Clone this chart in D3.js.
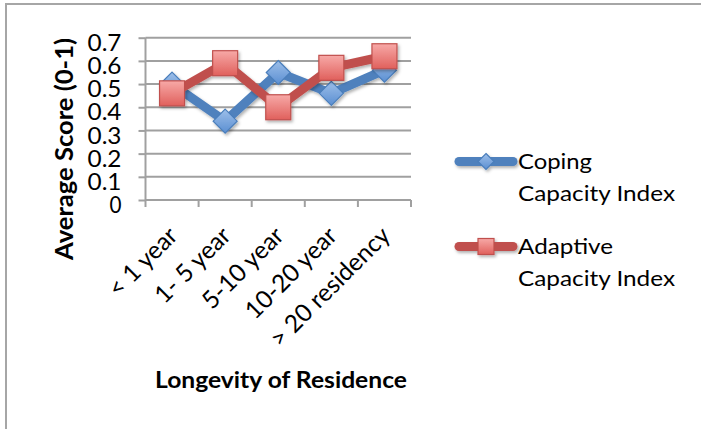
<!DOCTYPE html>
<html>
<head>
<meta charset="utf-8">
<script src="https://cdn.jsdelivr.net/npm/d3@7/dist/d3.min.js"></script>
<style>
  html, body { margin: 0; padding: 0; background: #fff; }
  svg { display: block; }
  text { font-family: Lato, "Open Sans", sans-serif; fill: #000; }
</style>
</head>
<body>
<svg id="chart" width="701" height="429"></svg>
<script>
// Residence-length groups and the two index series
const categories = ["< 1 year", "1- 5 year", "5-10 year", "10-20 year", "> 20 residency"];
const copingValues = [0.50, 0.34, 0.55, 0.46, 0.56];
const adaptiveValues = [0.46, 0.59, 0.40, 0.57, 0.62];
const yTicks = [0, 0.1, 0.2, 0.3, 0.4, 0.5, 0.6, 0.7];
const seriesNames = ["Coping Capacity Index", "Adaptive Capacity Index"];

const svg = d3.select("#chart");
const W = 701, H = 429;
const plot = { left: 145.5, right: 411, top: 37.7, bottom: 200 };

// Outer frame
svg.append("rect").attr("x", 6).attr("y", 4).attr("width", W + 10).attr("height", H + 10)
  .attr("fill", "#fff").attr("stroke", "#a6a6a6").attr("stroke-width", 2);

const defs = svg.append("defs");
const shadow = defs.append("filter").attr("id", "shadow")
  .attr("x", "-30%").attr("y", "-30%").attr("width", "160%").attr("height", "160%");
shadow.append("feDropShadow").attr("dx", 1.5).attr("dy", 2).attr("stdDeviation", 1.5)
  .attr("flood-color", "#000").attr("flood-opacity", 0.3);

function grad(id, top, bottom) {
  const g = defs.append("linearGradient").attr("id", id)
    .attr("x1", 0).attr("y1", 0).attr("x2", 0).attr("y2", 1);
  g.append("stop").attr("offset", "0%").attr("stop-color", top);
  g.append("stop").attr("offset", "100%").attr("stop-color", bottom);
}
grad("blueFill", "#9dbfe9", "#5b8fd2");
grad("redFill", "#f7a9a7", "#e0605c");

const x = d3.scaleBand().domain(categories).range([plot.left, plot.right]);
const y = d3.scaleLinear().domain([0, 0.7]).range([plot.bottom, plot.top]);
const cx = c => x(c) + x.bandwidth() / 2;

// Horizontal gridlines
svg.append("g").selectAll("line").data(yTicks.filter(t => t > 0)).join("line")
  .attr("x1", plot.left).attr("x2", plot.right)
  .attr("y1", d => y(d)).attr("y2", d => y(d))
  .attr("stroke", "#a0a0a0").attr("stroke-width", 2);

// Y axis
const yAxis = svg.append("g").attr("transform", `translate(${plot.left},0)`)
  .call(d3.axisLeft(y).tickValues(yTicks).tickSize(7).tickPadding(17)
    .tickFormat(d => d === 0 ? "0" : d3.format(".1f")(d)));
yAxis.select(".domain").attr("stroke", "#a0a0a0").attr("stroke-width", 2).attr("d", `M0,${plot.top}V${plot.bottom}`);
yAxis.selectAll(".tick line").attr("stroke", "#a0a0a0").attr("stroke-width", 2);
yAxis.selectAll(".tick text").attr("font-size", 23).attr("font-family", "Lato").attr("dy", "0.55em")
  .attr("fill", "#000").attr("textLength", d => d === 0 ? 12 : 34).attr("lengthAdjust", "spacingAndGlyphs");

// X axis
const xAxis = svg.append("g").attr("transform", `translate(0,${plot.bottom})`)
  .call(d3.axisBottom(x).tickSize(7).tickFormat(""));
xAxis.select(".domain").attr("stroke", "#a0a0a0").attr("stroke-width", 2).attr("d", `M${plot.left},0H${plot.right}`);
xAxis.selectAll(".tick").remove();
const boundaries = categories.map(c => x(c)).concat([x(categories[categories.length - 1]) + x.bandwidth()]);
xAxis.selectAll("line.bt").data(boundaries).join("line").attr("class", "bt")
  .attr("x1", d => d).attr("x2", d => d).attr("y1", 0).attr("y2", 7)
  .attr("stroke", "#a0a0a0").attr("stroke-width", 2);

// Rotated category labels
svg.append("g").selectAll("text").data(categories).join("text")
  .attr("transform", c => `translate(${cx(c) - 5},${plot.bottom + 25}) rotate(-45)`)
  .attr("text-anchor", "end").attr("dy", "0.7em")
  .attr("font-size", 24.5)
  .text(d => d);

// Axis titles
svg.append("text").attr("transform", `translate(73,149) rotate(-90)`)
  .attr("text-anchor", "middle").attr("font-weight", "bold").attr("font-size", 24)
  .attr("textLength", 222).attr("lengthAdjust", "spacingAndGlyphs")
  .text("Average Score (0-1)");
svg.append("text").attr("x", 281).attr("y", 388)
  .attr("text-anchor", "middle").attr("font-weight", "bold").attr("font-size", 23)
  .attr("textLength", 252).attr("lengthAdjust", "spacingAndGlyphs")
  .text("Longevity of Residence");

// Series lines
const line = d3.line().x((d, i) => cx(categories[i])).y(d => y(d));
const series = [
  { values: copingValues, color: "#4f81bd", marker: "diamond", fill: "url(#blueFill)", stroke: "#4a7ebb" },
  { values: adaptiveValues, color: "#c0504d", marker: "square", fill: "url(#redFill)", stroke: "#c0504d" }
];

function drawMarker(g, type, size, fill, stroke) {
  if (type === "diamond") {
    g.append("path").attr("d", `M0,${-size}L${size},0L0,${size}L${-size},0Z`)
      .attr("fill", fill).attr("stroke", stroke).attr("stroke-width", 1.2);
  } else {
    g.append("rect").attr("x", -size).attr("y", -size).attr("width", size * 2).attr("height", size * 2)
      .attr("fill", fill).attr("stroke", stroke).attr("stroke-width", 1.2);
  }
}

series.forEach(s => {
  const g = svg.append("g").attr("filter", "url(#shadow)");
  g.append("path").datum(s.values).attr("d", line)
    .attr("fill", "none").attr("stroke", s.color).attr("stroke-width", 9)
    .attr("stroke-linejoin", "round").attr("stroke-linecap", "round");
  s.values.forEach((v, i) => {
    const m = g.append("g").attr("transform", `translate(${cx(categories[i])},${y(v)})`);
    drawMarker(m, s.marker, s.marker === "diamond" ? 12 : 12.5, s.fill, s.stroke);
  });
});

// Legend
const legendRows = [
  { lines: ["Coping", "Capacity Index"], widths: [74, 157], y: 161.5, s: series[0] },
  { lines: ["Adaptive", "Capacity Index"], widths: [95, 157], y: 246.5, s: series[1] }
];
legendRows.forEach(r => {
  const g = svg.append("g");
  const lg = g.append("g").attr("filter", "url(#shadow)");
  lg.append("line").attr("x1", 459).attr("x2", 513).attr("y1", r.y).attr("y2", r.y)
    .attr("stroke", r.s.color).attr("stroke-width", 9).attr("stroke-linecap", "round");
  const m = lg.append("g").attr("transform", `translate(486,${r.y})`);
  drawMarker(m, r.s.marker, 8, r.s.fill, r.s.stroke);
  r.lines.forEach((t, k) => {
    g.append("text").attr("x", 518).attr("y", r.y + k * 31.5).attr("dy", "0.36em")
      .attr("font-size", 22).attr("textLength", r.widths[k]).attr("lengthAdjust", "spacingAndGlyphs")
      .text(t);
  });
});
</script>
</body>
</html>
